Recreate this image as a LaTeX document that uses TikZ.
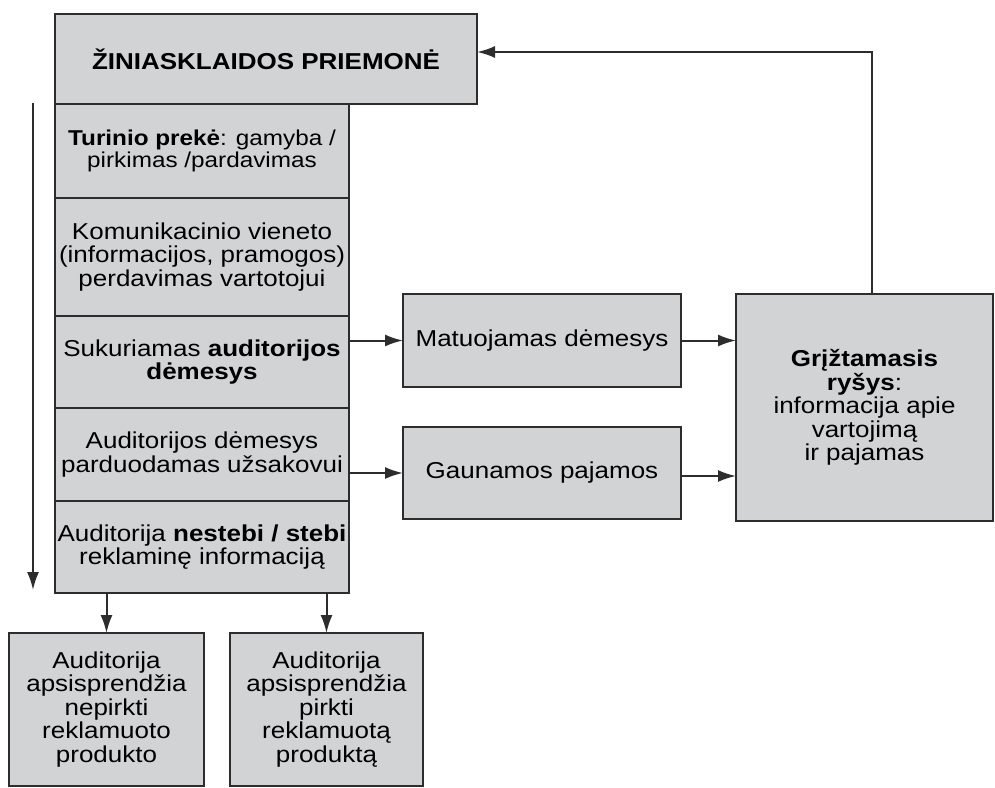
\documentclass[tikz,border=0pt]{standalone}
\usepackage{fontspec}
\setmainfont[FakeStretch=1.13]{Liberation Sans}
\usetikzlibrary{arrows.meta,positioning}
\definecolor{boxgray}{RGB}{210,211,213}
\definecolor{edgegray}{RGB}{45,45,45}
\tikzstyle{block} = [rectangle, draw=edgegray, fill=boxgray, line width=2pt, align=center, inner sep=0pt, outer sep=0pt, font=\fontsize{23}{23.5}\selectfont]
\tikzstyle{row} = [block, minimum width=294pt]
\tikzstyle{line} = [draw=edgegray, line width=2pt, -{Latex[length=18pt,width=12pt]}]

\begin{document}
\begin{tikzpicture}[x=1pt, y=-1pt]
        \useasboundingbox (0,0) rectangle (995,787);
        \node[block, minimum width=422pt, minimum height=90pt, font=\bfseries\fontsize{23}{23.5}\selectfont] (media) at (266,59) {ŽINIASKLAIDOS PRIEMONĖ};
        \node[row, minimum height=94pt, anchor=north west, font=\fontsize{21.5}{22.5}\selectfont] (r1) at (media.south west) {\textbf{Turinio prekė}: gamyba /\\pirkimas /pardavimas};
        \node[row, minimum height=118pt, below=0pt of r1]  (r2) {Komunikacinio vieneto\\(informacijos, pramogos)\\perdavimas vartotojui};
        \node[row, minimum height=92pt, below=0pt of r2]   (r3) {Sukuriamas \textbf{auditorijos}\\\textbf{dėmesys}};
        \node[row, minimum height=93pt, below=0pt of r3]   (r4) {Auditorijos dėmesys\\parduodamas užsakovui};
        \node[row, minimum height=92pt, below=0pt of r4]   (r5) {Auditorija \textbf{nestebi / stebi}\\reklaminę informaciją};
        \node[block, minimum width=278pt, minimum height=93pt]  (meas) at (542,340.5) {Matuojamas dėmesys};
        \node[block, minimum width=278pt, minimum height=92pt]  (inc)  at (542,473) {Gaunamos pajamos};
        \node[block, minimum width=257pt, minimum height=227pt] (fb)   at (864.5,407.5) {\textbf{Grįžtamasis}\\\textbf{ryšys}:\\informacija apie\\vartojimą\\ir pajamas};
        \node[block, minimum width=195pt, minimum height=153pt] (nobuy) at (106.5,709.5) {Auditorija\\apsisprendžia\\nepirkti\\reklamuoto\\produkto};
        \node[block, minimum width=193pt, minimum height=153pt] (buy)   at (326.5,709.5) {Auditorija\\apsisprendžia\\pirkti\\reklamuotą\\produktą};
        \coordinate (flowtop) at (33,103);
        \coordinate (flowend) at (33,590);

        \path[line] (flowtop) --             (flowend);
        \path[line] (r3.east |- meas) --     (meas);
        \path[line] (r4.east |- inc) --      (inc);
        \path[line] (meas) --                (meas -| fb.west);
        \path[line] ([yshift=-3pt]inc.east) -- ([yshift=-3pt]inc.east -| fb.west);
        \path[line] (r5.south -| nobuy) --   (nobuy);
        \path[line] (r5.south -| buy) --     (buy);
        \path[line] ([xshift=7.5pt]fb.north) |- ([yshift=7pt]media.east);
\end{tikzpicture}
\end{document}
